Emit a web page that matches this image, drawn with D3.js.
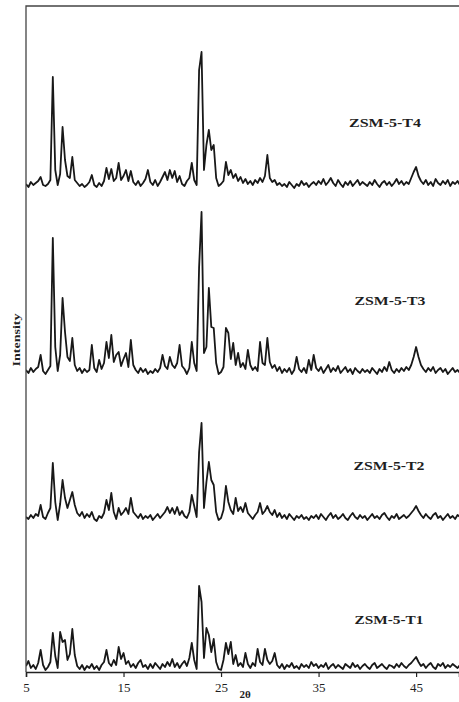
<!DOCTYPE html>
<html>
<head>
<meta charset="utf-8">
<script src="https://cdn.jsdelivr.net/npm/d3@7"></script>
<style>
  html, body { margin: 0; padding: 0; background: #fff; }
  svg { display: block; }
  text { font-family: "Liberation Serif", "Times New Roman", serif; fill: #1e1e1e; }
</style>
</head>
<body>
<svg id="chart" width="459" height="702"></svg>
<script>
// XRD patterns of ZSM-5 samples T1..T4, sampled every 0.25° 2θ from 5° to 49.5°
const angleStart = 5, angleStep = 0.25, angleCount = 179;

const seriesNames = ["ZSM-5-T1", "ZSM-5-T2", "ZSM-5-T3", "ZSM-5-T4"];

const t1 = [
  6, 11, 4, 7, 3, 9, 22, 7, 2, 5, 10, 39, 16, 4, 40, 30, 32, 12, 18, 43,
  17, 6, 3, 7, 2, 6, 4, 8, 3, 6, 2, 7, 10, 22, 9, 6, 12, 7, 25, 13,
  19, 8, 11, 5, 8, 4, 9, 12, 5, 7, 3, 8, 4, 9, 6, 3, 8, 5, 10, 6,
  13, 5, 9, 4, 8, 11, 6, 14, 29, 12, 3, 86, 70, 14, 44, 37, 20, 33, 10, 3,
  2, 12, 29, 18, 30, 8, 17, 6, 9, 5, 19, 8, 4, 9, 6, 23, 10, 7, 23, 12,
  8, 11, 19, 7, 4, 8, 3, 7, 5, 9, 4, 6, 3, 8, 5, 7, 4, 10, 6, 8,
  4, 7, 5, 9, 3, 6, 8, 4, 7, 5, 3, 8, 6, 4, 9, 5, 7, 3, 6, 8,
  5, 3, 7, 9, 4, 6, 8, 5, 3, 7, 6, 4, 8, 5, 9, 6, 4, 7, 9, 12,
  15, 10, 6, 8, 4, 7, 9, 5, 3, 8, 6, 9, 4, 7, 5, 8, 6, 4, 7
];

const t2 = [
  5, 3, 7, 4, 8, 6, 17, 5, 3, 9, 14, 59, 20, 2, 18, 42, 24, 14, 22, 30,
  17, 9, 6, 10, 4, 8, 5, 10, 3, 1, 6, 4, 9, 22, 12, 29, 10, 3, 14, 7,
  10, 14, 8, 24, 10, 7, 4, 8, 3, 6, 4, 7, 2, 5, 8, 4, 7, 10, 15, 9,
  14, 8, 15, 7, 11, 6, 4, 10, 27, 16, 5, 70, 99, 14, 40, 60, 42, 37, 10, 2,
  4, 12, 36, 20, 12, 8, 24, 11, 15, 10, 19, 9, 6, 3, 7, 10, 19, 8, 11, 16,
  10, 7, 12, 5, 9, 4, 7, 3, 8, 5, 2, 6, 4, 7, 3, 5, 2, 6, 4, 7,
  3, 8, 5, 2, 6, 9, 4, 7, 3, 5, 8, 4, 2, 6, 9, 5, 3, 7, 4, 6,
  2, 5, 8, 4, 6, 3, 7, 9, 5, 2, 6, 4, 8, 3, 5, 7, 4, 6, 9, 12,
  16, 11, 7, 4, 8, 5, 3, 7, 9, 4, 6, 2, 5, 8, 4, 6, 3, 7, 5
];

const t3 = [
  7, 4, 9, 5, 8, 10, 22, 6, 3, 7, 11, 139, 30, 6, 22, 79, 45, 20, 16, 39,
  12, 6, 9, 4, 8, 5, 7, 32, 9, 5, 17, 8, 14, 35, 19, 42, 15, 22, 25, 11,
  18, 24, 10, 37, 12, 7, 4, 9, 5, 8, 3, 6, 4, 8, 5, 9, 22, 11, 8, 20,
  12, 9, 14, 32, 11, 8, 3, 9, 35, 14, 6, 110, 165, 24, 30, 89, 50, 49, 14, 3,
  5, 10, 49, 44, 18, 34, 12, 24, 10, 14, 8, 27, 12, 7, 10, 6, 35, 14, 12, 39,
  15, 9, 12, 6, 10, 4, 8, 5, 9, 3, 7, 20, 8, 5, 9, 4, 17, 7, 22, 9,
  6, 10, 4, 8, 12, 5, 9, 6, 11, 4, 7, 10, 5, 8, 3, 9, 6, 4, 8, 5,
  7, 4, 9, 6, 3, 8, 5, 10, 6, 15, 7, 4, 8, 5, 9, 6, 10, 7, 12, 20,
  30, 20, 12, 8, 5, 9, 6, 10, 4, 7, 9, 5, 8, 3, 6, 9, 5, 7, 4
];

const t4 = [
  6, 3, 8, 5, 7, 9, 13, 5, 4, 6, 10, 113, 20, 5, 16, 63, 30, 14, 12, 33,
  10, 7, 4, 6, 3, 5, 8, 15, 5, 3, 7, 4, 9, 22, 11, 21, 9, 12, 27, 10,
  14, 20, 9, 19, 8, 5, 9, 4, 7, 11, 20, 8, 5, 10, 4, 8, 13, 18, 10, 20,
  12, 19, 8, 14, 6, 4, 9, 12, 27, 10, 5, 120, 138, 20, 45, 60, 40, 45, 12, 4,
  6, 9, 28, 15, 20, 12, 16, 9, 13, 7, 11, 6, 9, 5, 10, 7, 12, 8, 14, 35,
  12, 8, 10, 5, 7, 4, 6, 3, 8, 5, 2, 6, 4, 9, 5, 7, 3, 6, 8, 5,
  9, 6, 11, 5, 8, 12, 7, 4, 10, 6, 3, 8, 5, 9, 4, 7, 10, 5, 8, 6,
  4, 8, 5, 10, 6, 3, 7, 9, 5, 8, 4, 7, 11, 6, 9, 5, 8, 6, 12, 18,
  23, 14, 9, 6, 10, 5, 8, 4, 11, 7, 5, 9, 6, 10, 4, 8, 6, 9, 5
];

const xTicks = [5, 15, 25, 35, 45];

// layout
const W = 459, H = 702;
const plotLeft = 26, plotTop = 6, plotBottom = 672;
const svg = d3.select("#chart");

const x = d3.scaleLinear().domain([5, 49.4]).range([plotLeft, W]);
const y = d3.scaleLinear().domain([0, plotBottom - plotTop]).range([plotBottom, plotTop]);

// vertical stacking of the patterns (intensity units)
const stackOffset = [0, 150, 295, 482];
const labelPos = [
  { x: 389, y: 624, w: 69 },
  { x: 389, y: 470, w: 71 },
  { x: 390, y: 305, w: 71 },
  { x: 385, y: 127, w: 72 }
];

const angles = d3.range(angleCount).map(i => angleStart + i * angleStep);
const allSeries = [t1, t2, t3, t4];

svg.append("defs").append("clipPath").attr("id", "plot-clip")
  .append("rect").attr("x", plotLeft).attr("y", plotTop)
  .attr("width", W - plotLeft).attr("height", plotBottom - plotTop);

const traces = svg.append("g").attr("clip-path", "url(#plot-clip)");
allSeries.forEach((vals, k) => {
  const line = d3.line()
    .x((d, i) => x(angles[i]))
    .y(d => y(d + stackOffset[k]))
    .curve(d3.curveLinear);
  traces.append("path")
    .datum(vals)
    .attr("d", line)
    .attr("fill", "none")
    .attr("stroke", "#181818")
    .attr("stroke-width", 1.8)
    .attr("stroke-linejoin", "round");
});

// frame: top and left edges
svg.append("path")
  .attr("d", `M${W},${plotTop}H${plotLeft}V${plotBottom}`)
  .attr("fill", "none")
  .attr("stroke", "#444")
  .attr("stroke-width", 1.3);

// bottom axis
const xAxis = d3.axisBottom(x).tickValues(xTicks).tickSize(5).tickPadding(6).tickFormat(d3.format("d"));
const ax = svg.append("g").attr("transform", `translate(0,${plotBottom})`).call(xAxis);
ax.select(".domain").attr("stroke", "#222").attr("stroke-width", 1.5);
ax.selectAll(".tick line").attr("stroke", "#222").attr("stroke-width", 1.2);
ax.selectAll(".tick text")
  .style("font-family", "'Liberation Serif', serif")
  .style("font-size", "13px")
  .attr("fill", "#2a2a2a");

// axis titles
svg.append("text")
  .attr("x", 245).attr("y", 698)
  .attr("text-anchor", "middle")
  .style("font-size", "11px").style("font-weight", "bold")
  .text("2θ");

svg.append("text")
  .attr("transform", "translate(20,340) rotate(-90)")
  .attr("text-anchor", "middle")
  .style("font-size", "11px").style("font-weight", "bold")
  .attr("textLength", 53).attr("lengthAdjust", "spacingAndGlyphs")
  .text("Intensity");

// sample labels
seriesNames.forEach((name, k) => {
  const p = labelPos[k];
  svg.append("text")
    .attr("x", p.x - p.w / 2).attr("y", p.y)
    .attr("textLength", p.w).attr("lengthAdjust", "spacingAndGlyphs")
    .style("font-size", "12.5px").style("font-weight", "bold")
    .text(name);
});
</script>
</body>
</html>
